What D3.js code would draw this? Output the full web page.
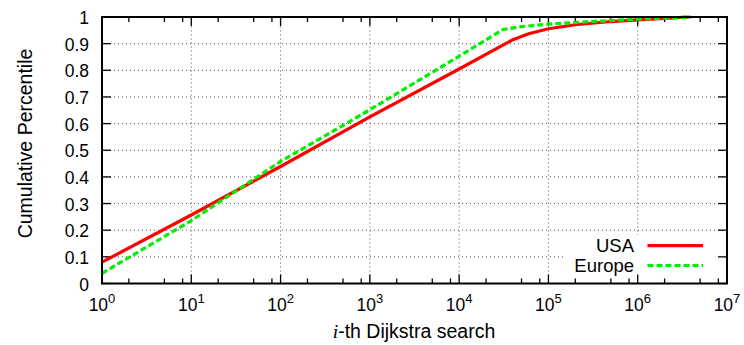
<!DOCTYPE html>
<html>
<head>
<meta charset="utf-8">
<script src="https://cdn.jsdelivr.net/npm/d3@7"></script>
<style>
  html, body { margin: 0; padding: 0; background: #fff; }
  svg { display: block; }
  text { font-family: "Liberation Sans", Arial, Helvetica, sans-serif; fill: #000; }
</style>
</head>
<body>
<svg id="chart" width="744" height="345"></svg>
<script>
// ---- data ----
const usaX = [1, 10, 100, 1000, 10000, 40000, 60000, 100000, 200000, 500000, 1000000, 2000000, 3800000];
const usaY = [0.08, 0.257, 0.439, 0.625, 0.805, 0.915, 0.937, 0.956, 0.971, 0.983, 0.989, 0.995, 1.0];
const europeX = [1, 10, 100, 1000, 10000, 31000, 50000, 100000, 300000, 1000000, 4000000];
const europeY = [0.038, 0.236, 0.458, 0.652, 0.853, 0.953, 0.964, 0.973, 0.983, 0.992, 1.0];
const xTickExponents = [0, 1, 2, 3, 4, 5, 6, 7];
const yTicks = [0, 0.1, 0.2, 0.3, 0.4, 0.5, 0.6, 0.7, 0.8, 0.9, 1];
const minorMultipliers = [2, 5, 8];
const seriesNames = ["USA", "Europe"];
const seriesColors = ["#ff0000", "#00ee00"];

// ---- layout ----
const svg = d3.select("#chart");
const L = 102, R = 727, T = 17, B = 283.5;
const x = d3.scaleLog().domain([1, 1e7]).range([L, R]);
const y = d3.scaleLinear().domain([0, 1]).range([B, T]);

// grid
const grid = svg.append("g").attr("stroke", "#555").attr("stroke-width", 1).attr("stroke-dasharray", "1,3");
xTickExponents.slice(1, -1).forEach(e => {
  grid.append("line").attr("x1", x(Math.pow(10, e))).attr("x2", x(Math.pow(10, e)))
    .attr("y1", B).attr("y2", T);
});
yTicks.slice(1, -1).forEach(v => {
  grid.append("line").attr("x1", L).attr("x2", R).attr("y1", y(v)).attr("y2", y(v));
});

// legend background (opaque key)
svg.append("rect").attr("x", 565).attr("y", 235).attr("width", R - 565).attr("height", B - 235).attr("fill", "#fff");

// ticks
const ticks = svg.append("g").attr("stroke", "#000").attr("stroke-width", 1.3);
xTickExponents.forEach(e => {
  const xv = x(Math.pow(10, e));
  ticks.append("line").attr("x1", xv).attr("x2", xv).attr("y1", B).attr("y2", B - 9);
  ticks.append("line").attr("x1", xv).attr("x2", xv).attr("y1", T).attr("y2", T + 9);
  if (e < 7) {
    minorMultipliers.forEach(m => {
      const xm = x(m * Math.pow(10, e));
      ticks.append("line").attr("x1", xm).attr("x2", xm).attr("y1", B).attr("y2", B - 5);
      ticks.append("line").attr("x1", xm).attr("x2", xm).attr("y1", T).attr("y2", T + 5);
    });
  }
});
yTicks.forEach(v => {
  ticks.append("line").attr("x1", L).attr("x2", L + 9).attr("y1", y(v)).attr("y2", y(v));
  ticks.append("line").attr("x1", R).attr("x2", R - 9).attr("y1", y(v)).attr("y2", y(v));
});

// tick labels
yTicks.forEach(v => {
  svg.append("text").attr("x", 89).attr("y", y(v) + 7).attr("text-anchor", "end")
    .attr("font-size", 17.5).text(d3.format("")(+v.toFixed(1)));
});
xTickExponents.forEach(e => {
  const t = svg.append("text").attr("x", x(Math.pow(10, e))).attr("y", 310.5)
    .attr("text-anchor", "middle").attr("font-size", 17.5);
  t.append("tspan").text("10");
  t.append("tspan").attr("dy", -7.5).attr("font-size", 13).text(e);
});

// axis titles
const xt = svg.append("text").attr("x", 414).attr("y", 338).attr("text-anchor", "middle").attr("font-size", 19.5);
xt.append("tspan").attr("font-family", "'Liberation Serif', 'DejaVu Serif', serif").attr("font-style", "italic").text("i");
xt.append("tspan").text("-th Dijkstra search");
svg.append("text").attr("transform", "translate(31.5,143.5) rotate(-90)").attr("text-anchor", "middle")
  .attr("font-size", 19.5).text("Cumulative Percentile");

// series
const line = d3.line().x(d => x(d[0])).y(d => y(d[1]));
const usaPts = usaX.map((v, i) => [v, usaY[i]]);
const eurPts = europeX.map((v, i) => [v, europeY[i]]);
svg.append("path").datum(usaPts).attr("d", line).attr("fill", "none")
  .attr("stroke", seriesColors[0]).attr("stroke-width", 3.2);
svg.append("path").datum(eurPts).attr("d", line).attr("fill", "none")
  .attr("stroke", seriesColors[1]).attr("stroke-width", 3.2).attr("stroke-dasharray", "6,3");

// legend
[0, 1].forEach(i => {
  const ly = [245.7, 265.5][i];
  svg.append("text").attr("x", 634).attr("y", ly + 6.5).attr("text-anchor", "end").attr("font-size", 18.5).text(seriesNames[i]);
  svg.append("line").attr("x1", 647.5).attr("x2", 703).attr("y1", ly).attr("y2", ly)
    .attr("stroke", seriesColors[i]).attr("stroke-width", 3.2)
    .attr("stroke-dasharray", i === 1 ? "6,3" : null);
});

// frame
svg.append("rect").attr("x", L).attr("y", T).attr("width", R - L).attr("height", B - T)
  .attr("fill", "none").attr("stroke", "#000").attr("stroke-width", 2);
</script>
</body>
</html>
